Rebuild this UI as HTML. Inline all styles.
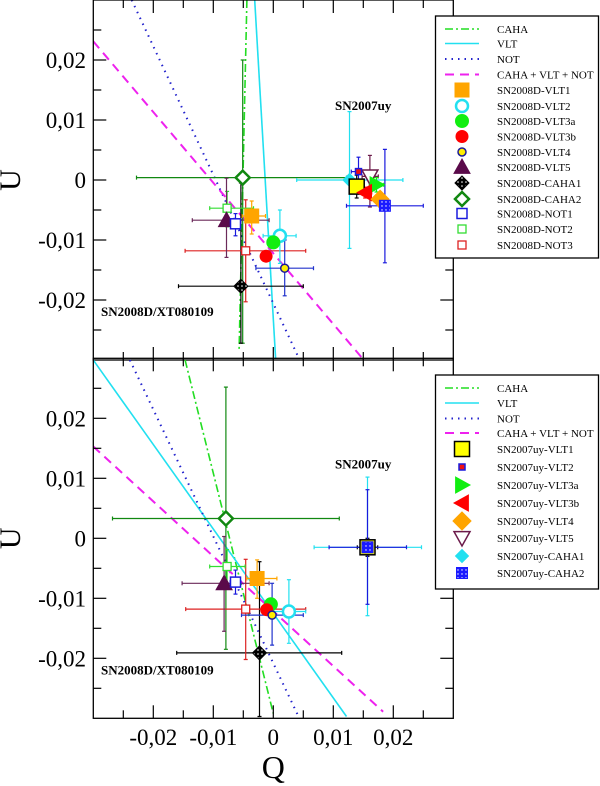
<!DOCTYPE html>
<html><head><meta charset="utf-8"><style>
html,body{margin:0;padding:0;background:#fff;width:600px;height:786px;overflow:hidden;}
svg{display:block;font-family:"Liberation Serif",serif;}
</style></head><body>
<svg id="chart" width="600" height="786" viewBox="0 0 600 786">
<defs>
<clipPath id="clipTop"><rect x="93.3" y="0" width="360" height="359"/></clipPath>
<clipPath id="clipBot"><rect x="93.3" y="358.3" width="360" height="360"/></clipPath>
<pattern id="dots" width="4" height="4" patternUnits="userSpaceOnUse"><rect width="4" height="4" fill="#1a1aff"/><circle cx="2" cy="2" r="0.7" fill="#fff"/></pattern>
<pattern id="dotsK" width="4" height="4" patternUnits="userSpaceOnUse"><rect width="4" height="4" fill="#000"/><circle cx="2" cy="2" r="0.8" fill="#fff"/></pattern>
</defs>
</svg>
<script>
// ---- data ----
const xTicks = [-0.02, -0.01, 0, 0.01, 0.02];
const xTickLabels = ["-0,02", "-0,01", "0", "0,01", "0,02"];
const yTicks = [0.02, 0.01, 0, -0.01, -0.02];
const yTickLabels = ["0,02", "0,01", "0", "-0,01", "-0,02"];

// fitted lines: two points each [q1,u1,q2,u2]
const lineNames = ["CAHA", "VLT", "NOT", "CAHA + VLT + NOT"];
const topLines = [[-0.0044, 0.03, -0.0057, -0.0283], [-0.0031, 0.03, 0.0004, -0.03], [-0.0236, 0.03, 0.0044, -0.03], [-0.03, 0.0231, 0.015, -0.0299]];
const botLines = [[-0.0147, 0.0297, 0, -0.0292], [-0.03, 0.0297, 0.0122, -0.0297], [-0.0239, 0.0297, 0.0042, -0.0297], [-0.03, 0.0153, 0.0183, -0.0289]];

// top panel series
const topNames = ["SN2008D-CAHA2","SN2008D-CAHA1","SN2008D-NOT3","SN2008D-NOT2","SN2008D-VLT5","SN2008D-NOT1","SN2008D-VLT1","SN2008D-VLT2","SN2008D-VLT3a","SN2008D-VLT3b","SN2008D-VLT4",
 "SN2007uy-CAHA1","SN2007uy-VLT5","SN2007uy-VLT1","SN2007uy-VLT2","SN2007uy-VLT3a","SN2007uy-VLT3b","SN2007uy-VLT4","SN2007uy-CAHA2"];
const topQ = [-0.0051,-0.0054,-0.0046,-0.0077,-0.0078,-0.0063,-0.0036,0.0011,0.0000,-0.0012,0.0019, 0.0127,0.0161,0.0139,0.0142,0.0172,0.0153,0.0178,0.0186];
const topU = [0.0004,-0.0177,-0.0118,-0.0047,-0.0067,-0.0073,-0.0060,-0.0093,-0.0104,-0.0127,-0.0147, 0.0000,0.0006,-0.0011,0.0014,-0.0008,-0.0021,-0.0032,-0.0043];
const topQlo = [-0.0228,-0.0158,-0.0147,-0.0106,-0.0135,-0.0070,-0.0052,-0.0017,-0.0010,-0.0020,-0.0029, 0.0039,0.0148,0.0128,0.0130,0.0160,0.0142,0.0168,0.0122];
const topQhi = [0.0122,0.0050,0.0054,-0.0033,-0.0007,-0.0055,-0.0013,0.0038,0.0010,-0.0004,0.0067, 0.0216,0.0175,0.0150,0.0155,0.0184,0.0164,0.0188,0.0250];
const topUlo = [-0.0272,-0.0272,-0.0203,-0.0078,-0.0129,-0.0093,-0.0090,-0.0139,-0.0112,-0.0135,-0.0193, -0.0114,-0.0045,-0.0030,-0.0010,-0.0020,-0.0030,-0.0045,-0.0138];
const topUhi = [0.0200,-0.0005,-0.0033,-0.0019,0.0003,-0.0056,-0.0035,-0.0050,-0.0096,-0.0119,-0.0100, 0.0114,0.0041,0.0008,0.0038,0.0004,-0.0012,-0.0020,0.0051];

// bottom panel series
const botNames = ["SN2008D-CAHA2","SN2008D-CAHA1","SN2008D-NOT3","SN2008D-NOT2","SN2008D-VLT5","SN2008D-NOT1","SN2008D-VLT1","SN2008D-VLT2","SN2008D-VLT3a","SN2008D-VLT3b","SN2008D-VLT4",
 "SN2007uy-CAHA1","SN2007uy-VLT1","SN2007uy-CAHA2"];
const botQ = [-0.0079,-0.0023,-0.0046,-0.0077,-0.0082,-0.0063,-0.0027,0.0026,-0.0004,-0.0011,-0.0002, 0.0157,0.0157,0.0157];
const botU = [0.0033,-0.0191,-0.0118,-0.0047,-0.0075,-0.0073,-0.0067,-0.0122,-0.0110,-0.0119,-0.0128, -0.0015,-0.0015,-0.0015];
const botQlo = [-0.0268,-0.0161,-0.0146,-0.0106,-0.0152,-0.0072,-0.0044,0.0000,-0.0012,-0.0019,-0.0053, 0.0068,0.0140,0.0093];
const botQhi = [0.0110,0.0114,0.0054,-0.0047,-0.0007,-0.0054,0.0006,0.0054,0.0004,-0.0003,0.0050, 0.0247,0.0174,0.0222];
const botUlo = [-0.0185,-0.0297,-0.0202,-0.0075,-0.0155,-0.0093,-0.0100,-0.0175,-0.0118,-0.0127,-0.0178, -0.0129,-0.0030,-0.0110];
const botUhi = [0.0252,-0.0039,-0.0035,-0.0019,0.0003,-0.0053,-0.0036,-0.0069,-0.0102,-0.0111,-0.0075, 0.0102,0.0000,0.0081];

const topLegendNames = ["SN2008D-VLT1","SN2008D-VLT2","SN2008D-VLT3a","SN2008D-VLT3b","SN2008D-VLT4","SN2008D-VLT5","SN2008D-CAHA1","SN2008D-CAHA2","SN2008D-NOT1","SN2008D-NOT2","SN2008D-NOT3"];
const botLegendNames = ["SN2007uy-VLT1","SN2007uy-VLT2","SN2007uy-VLT3a","SN2007uy-VLT3b","SN2007uy-VLT4","SN2007uy-VLT5","SN2007uy-CAHA1","SN2007uy-CAHA2"];

// ---- styles ----
const lineStyle = {"CAHA":{c:"#22dd22",d:"8,3,2,3",w:1.6},"VLT":{c:"#22e0f0",d:"",w:1.6},"NOT":{c:"#2222cc",d:"1.5,5",w:2},"CAHA + VLT + NOT":{c:"#ee22ee",d:"9,6",w:2}};
const mk = {
 "SN2008D-VLT1":{t:"sq",s:14,f:"#ffa500",st:"#ffa500",e:"#ffa500"},
 "SN2008D-VLT2":{t:"ci",s:6,f:"#fff",st:"#22e0f0",sw:2.5,e:"#22e0f0"},
 "SN2008D-VLT3a":{t:"ci",s:6.5,f:"#11ee11",st:"#11ee11",e:"#11ee11"},
 "SN2008D-VLT3b":{t:"ci",s:6,f:"#ff0000",st:"#ff0000",e:"#ff2222"},
 "SN2008D-VLT4":{t:"ci",s:4,f:"#ffee00",st:"#1a1a99",sw:1.5,e:"#2233cc"},
 "SN2008D-VLT5":{t:"tu",s:8,f:"#5a0a4a",st:"#5a0a4a",e:"#6b2a5a"},
 "SN2008D-CAHA1":{t:"di",s:7,f:"url(#dotsK)",st:"#000",e:"#000"},
 "SN2008D-CAHA2":{t:"di",s:7,f:"#fff",st:"#118811",sw:2.5,e:"#118811"},
 "SN2008D-NOT1":{t:"sq",s:10,f:"#fff",st:"#1a1add",sw:1.5,e:"#1a1add"},
 "SN2008D-NOT2":{t:"sq",s:8,f:"#fff",st:"#33dd33",sw:1.3,e:"#33dd33"},
 "SN2008D-NOT3":{t:"sq",s:8,f:"#fff",st:"#dd2222",sw:1.3,e:"#dd2222"},
 "SN2007uy-VLT1":{t:"sq",s:15,f:"#ffff00",st:"#000",sw:1.5,e:"#000"},
 "SN2007uy-VLT2":{t:"sq",s:6,f:"#ee1111",st:"#1a1add",sw:1.5,e:"#1a1add"},
 "SN2007uy-VLT3a":{t:"tr",s:8,f:"#11ee11",st:"#11ee11",e:"#11ee11"},
 "SN2007uy-VLT3b":{t:"tl",s:8,f:"#ff0000",st:"#ff0000",e:"#ff0000"},
 "SN2007uy-VLT4":{t:"di",s:9,f:"#ffa500",st:"#ffa500",e:"#ffa500"},
 "SN2007uy-VLT5":{t:"td",s:8,f:"#fff",st:"#6b1a4a",sw:1.5,e:"#6b1a4a"},
 "SN2007uy-CAHA1":{t:"di",s:6.5,f:"#22e0f0",st:"#22e0f0",e:"#22e0f0"},
 "SN2007uy-CAHA2":{t:"sq",s:11,f:"url(#dots)",st:"#1a1aff",e:"#1a1add"}
};

const svg = document.getElementById('chart');
const NS = "http://www.w3.org/2000/svg";
function el(tag, attrs, parent){const e=document.createElementNS(NS,tag);for(const k in attrs)e.setAttribute(k,attrs[k]);(parent||svg).appendChild(e);return e;}

const X0 = 93.3, PXW = 360;
function xs(q){return X0 + (q + 0.03) / 0.06 * PXW;}
function ysFor(top){return function(u){return top + (0.03 - u) / 0.06 * 360;};}

function marker(g, m, cx, cy){
 const s=m.s, sw=m.sw||1; let e;
 if(m.t==="sq") e=el('rect',{x:cx-s/2,y:cy-s/2,width:s,height:s},g);
 else if(m.t==="ci") e=el('circle',{cx:cx,cy:cy,r:s},g);
 else {
  let p;
  if(m.t==="di") p=[[cx,cy-s],[cx+s,cy],[cx,cy+s],[cx-s,cy]];
  else if(m.t==="tu") p=[[cx,cy-s],[cx+s,cy+s*0.8],[cx-s,cy+s*0.8]];
  else if(m.t==="td") p=[[cx-s,cy-s*0.8],[cx+s,cy-s*0.8],[cx,cy+s]];
  else if(m.t==="tr") p=[[cx-s*0.8,cy-s],[cx+s,cy],[cx-s*0.8,cy+s]];
  else p=[[cx+s*0.8,cy-s],[cx-s,cy],[cx+s*0.8,cy+s]];
  e=el('polygon',{points:p.map(a=>a.join(',')).join(' ')},g);
 }
 e.setAttribute('fill',m.f);e.setAttribute('stroke',m.st);e.setAttribute('stroke-width',sw);
 return e;
}

function panel(pname, top, lines, names, Q, U, Qlo, Qhi, Ulo, Uhi, clip){
 const ys = ysFor(top);
 const g = el('g',{});
 
 
 const cg = el('g',{'clip-path':'url(#'+clip+')'},g);
 lines.forEach((L,i)=>{
  const st=lineStyle[lineNames[i]];
  const ln=el('line',{x1:xs(L[0]),y1:ys(L[1]),x2:xs(L[2]),y2:ys(L[3]),stroke:st.c,'stroke-width':st.w,'stroke-dasharray':st.d},cg);
  
  
 });
 names.forEach((n,i)=>{
  const m=mk[n]; const eg=el('g',{stroke:m.e,'stroke-width':1.2},cg);
  
  
  const cx=xs(Q[i]), cy=ys(U[i]);
  el('line',{x1:xs(Qlo[i]),y1:cy,x2:xs(Qhi[i]),y2:cy},eg);
  el('line',{x1:cx,y1:ys(Ulo[i]),x2:cx,y2:ys(Uhi[i])},eg);
  el('line',{x1:xs(Qlo[i]),y1:cy-2,x2:xs(Qlo[i]),y2:cy+2},eg);
  el('line',{x1:xs(Qhi[i]),y1:cy-2,x2:xs(Qhi[i]),y2:cy+2},eg);
  el('line',{x1:cx-2,y1:ys(Ulo[i]),x2:cx+2,y2:ys(Ulo[i])},eg);
  el('line',{x1:cx-2,y1:ys(Uhi[i]),x2:cx+2,y2:ys(Uhi[i])},eg);
 });
 names.forEach((n,i)=>{
  const e=marker(cg, mk[n], xs(Q[i]), ys(U[i]));
  
  
 });
 el('rect',{x:X0,y:top,width:PXW,height:360,fill:'none',stroke:'#000','stroke-width':1.3},g);
 for(let k=-5;k<=5;k++){
  const q=k*0.005, x=xs(q), L=(k%2===0)?13:8;
  el('line',{x1:x,y1:top,x2:x,y2:top+L,stroke:'#000','stroke-width':1.2},g);
  el('line',{x1:x,y1:top+360,x2:x,y2:top+360-L,stroke:'#000','stroke-width':1.2},g);
  const u=k*0.005, y=ys(u);
  el('line',{x1:X0,y1:y,x2:X0+L,y2:y,stroke:'#000','stroke-width':1.2},g);
  el('line',{x1:X0+PXW,y1:y,x2:X0+PXW-L,y2:y,stroke:'#000','stroke-width':1.2},g);
 }
 yTicks.forEach((v,i)=>{
  const t=el('text',{x:86,y:ys(v)+8,'text-anchor':'end','font-size':'23'},g);
  t.textContent=yTickLabels[i];
  
  
 });
 const ut=el('text',{x:0,y:0,'font-size':'30','text-anchor':'middle',transform:'translate(20,'+ys(0)+') rotate(-90)'},g);
 ut.textContent='U';
 
 
 const l1=el('text',{x:335,y:top+110,'font-size':'13','font-weight':'bold'},g); l1.textContent='SN2007uy';
 
 
 const l2=el('text',{x:101,y:top+316,'font-size':'13','font-weight':'bold'},g); l2.textContent='SN2008D/XT080109';
 
 
 return g;
}

panel('top-panel', 0, topLines, topNames, topQ, topU, topQlo, topQhi, topUlo, topUhi, 'clipTop');
panel('bottom-panel', 358.3, botLines, botNames, botQ, botU, botQlo, botQhi, botUlo, botUhi, 'clipBot');

xTicks.forEach((v,i)=>{
 const t=el('text',{x:xs(v),y:745,'text-anchor':'middle','font-size':'23'});
 t.textContent=xTickLabels[i];
 
 
});
const qt=el('text',{x:xs(0),y:778,'text-anchor':'middle','font-size':'32'});
qt.textContent='Q';



function legend(lname, x, y, w, h, rowYs, seriesNames){
 const g=el('g',{});
 
 
 el('rect',{x:x,y:y,width:w,height:h,fill:'#fff',stroke:'#000','stroke-width':1.3},g);
 const all=lineNames.concat(seriesNames);
 all.forEach((n,i)=>{
  const ry=rowYs[i];
  const eg=el('g',{},g);
  
  
  if(i<4){const st=lineStyle[n];el('line',{x1:445,y1:ry,x2:479,y2:ry,stroke:st.c,'stroke-width':st.w,'stroke-dasharray':st.d},eg);}
  else marker(eg, mk[n], 462, ry);
  const t=el('text',{x:497,y:ry+4,'font-size':'11'},eg); t.textContent=n;
 });
}
legend('legend-sn2008d', 435.5, 16, 163, 242, [29,43.5,59,74.5,90,106,121,136.5,152,167,183,199,213.5,229,245], topLegendNames);
legend('legend-sn2007uy', 435.5, 375, 163, 214, [388,403,418.5,433,449,467,485,503,521,538,556,573], botLegendNames);
</script>
</body></html>
